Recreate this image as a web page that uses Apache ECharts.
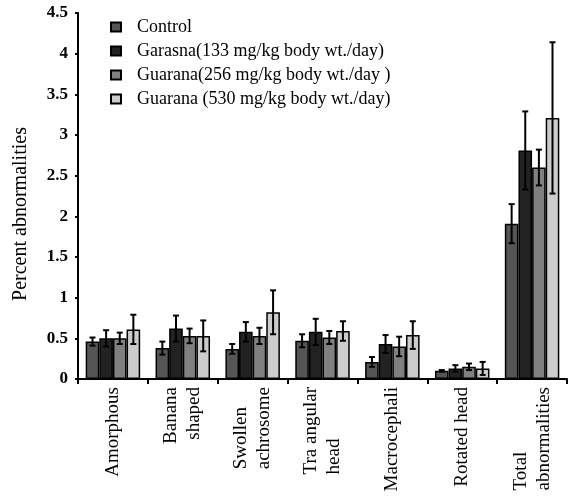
<!DOCTYPE html>
<html><head><meta charset="utf-8">
<script src="https://cdn.jsdelivr.net/npm/echarts@6/dist/echarts.min.js"></script>
<style>html,body{margin:0;padding:0;background:#fff}#c{width:571px;height:498px}</style>
</head><body><div id="c"></div>
<script>
const categories = ['Amorphous', 'Banana\nshaped', 'Swollen\nachrosome', 'Tra angular\nhead', 'Macrocephali', 'Rotated head', 'Total\nabnormalities'];
const seriesNames = ['Control', 'Garasna(133 mg/kg body wt./day)', 'Guarana(256 mg/kg body wt./day )', 'Guarana (530 mg/kg body wt./day)'];
const controlVals = [0.46, 0.38, 0.37, 0.47, 0.21, 0.10, 1.91];
const controlErr  = [0.05, 0.08, 0.06, 0.08, 0.06, 0.01, 0.24];
const garasnaVals = [0.50, 0.62, 0.58, 0.58, 0.43, 0.13, 2.81];
const garasnaErr  = [0.10, 0.16, 0.12, 0.16, 0.11, 0.04, 0.48];
const guarana256Vals = [0.50, 0.53, 0.53, 0.51, 0.40, 0.15, 2.60];
const guarana256Err  = [0.07, 0.09, 0.10, 0.08, 0.12, 0.04, 0.22];
const guarana530Vals = [0.61, 0.53, 0.82, 0.59, 0.54, 0.13, 3.21];
const guarana530Err  = [0.18, 0.19, 0.27, 0.12, 0.17, 0.08, 0.93];
const yTicks = [0, 0.5, 1, 1.5, 2, 2.5, 3, 3.5, 4, 4.5];

const vals = [controlVals, garasnaVals, guarana256Vals, guarana530Vals];
const errs = [controlErr, garasnaErr, guarana256Err, guarana530Err];
const colors = ['#555555', '#222222', '#808080', '#cccccc'];
const gapFrac = 0.22;
const font = 'Liberation Serif, Times New Roman, serif';
const bottomFlush = ['Swollen\nachrosome', 'Tra angular\nhead', 'Total\nabnormalities'];

const series = [];
vals.forEach((v, i) => {
  series.push({
    name: seriesNames[i], type: 'bar', data: v,
    barGap: 0, barCategoryGap: (gapFrac * 100) + '%',
    itemStyle: { color: colors[i], borderColor: '#000', borderWidth: 1.5 }
  });
});
vals.forEach((v, i) => {
  series.push({
    type: 'custom', silent: true, z: 10,
    data: v.map((m, k) => [k, m - errs[i][k], m + errs[i][k]]),
    renderItem: function (params, api) {
      const k = api.value(0);
      const lo = api.coord([k, api.value(1)]);
      const hi = api.coord([k, api.value(2)]);
      const cw = api.size([1, 0])[0];
      const bw = cw * (1 - gapFrac) / 4;
      const x = lo[0] + (i - 1.5) * bw;
      const cap = 3;
      const st = { stroke: '#000', lineWidth: 2 };
      return { type: 'group', children: [
        { type: 'line', shape: { x1: x, y1: lo[1], x2: x, y2: hi[1] }, style: st },
        { type: 'line', shape: { x1: x - cap, y1: lo[1], x2: x + cap, y2: lo[1] }, style: st },
        { type: 'line', shape: { x1: x - cap, y1: hi[1], x2: x + cap, y2: hi[1] }, style: st }
      ]};
    }
  });
});

const lblStyle = { fontFamily: font, fontSize: 19, color: '#000', lineHeight: 23 };
const chart = echarts.init(document.getElementById('c'));
chart.setOption({
  animation: false,
  backgroundColor: '#fff',
  grid: { left: 78, right: 4, top: 13, bottom: 119, containLabel: false },
  legend: {
    data: seriesNames, orient: 'vertical', left: 105, top: 13, icon: 'rect',
    itemWidth: 10, itemHeight: 9, itemGap: 6,
    textStyle: { fontFamily: font, fontSize: 18, color: '#000', padding: [0, 0, 0, 11] }
  },
  xAxis: {
    type: 'category', data: categories,
    axisLine: { lineStyle: { color: '#000', width: 2 } },
    axisTick: { show: true, length: 5, lineStyle: { color: '#000', width: 2 } },
    axisLabel: {
      rotate: 90, interval: 0, color: '#000', fontFamily: font, fontSize: 19, margin: 8, lineHeight: 23,
      formatter: function (v) {
        const tag = bottomFlush.includes(v) ? 'l' : 'r';
        return v.split('\n').map(s => '{' + tag + '|' + s + '}').join('\n');
      },
      rich: {
        r: Object.assign({ align: 'right' }, lblStyle),
        l: Object.assign({ align: 'left' }, lblStyle)
      }
    }
  },
  yAxis: {
    type: 'value', min: 0, max: 4.5, interval: 0.5,
    name: 'Percent abnormalities', nameLocation: 'middle', nameRotate: 90, nameGap: 47,
    nameTextStyle: { fontFamily: font, fontSize: 20, color: '#000', padding: [0, 36, 0, 0] },
    splitLine: { show: false },
    axisLine: { show: true, lineStyle: { color: '#000', width: 2 } },
    axisTick: { show: true, length: 3, lineStyle: { color: '#000', width: 2 } },
    axisLabel: { color: '#000', fontFamily: font, fontSize: 17, fontWeight: 'bold', margin: 10,
      formatter: v => yTicks.includes(v) ? String(v) : '' }
  },
  series: series
});
</script></body></html>
